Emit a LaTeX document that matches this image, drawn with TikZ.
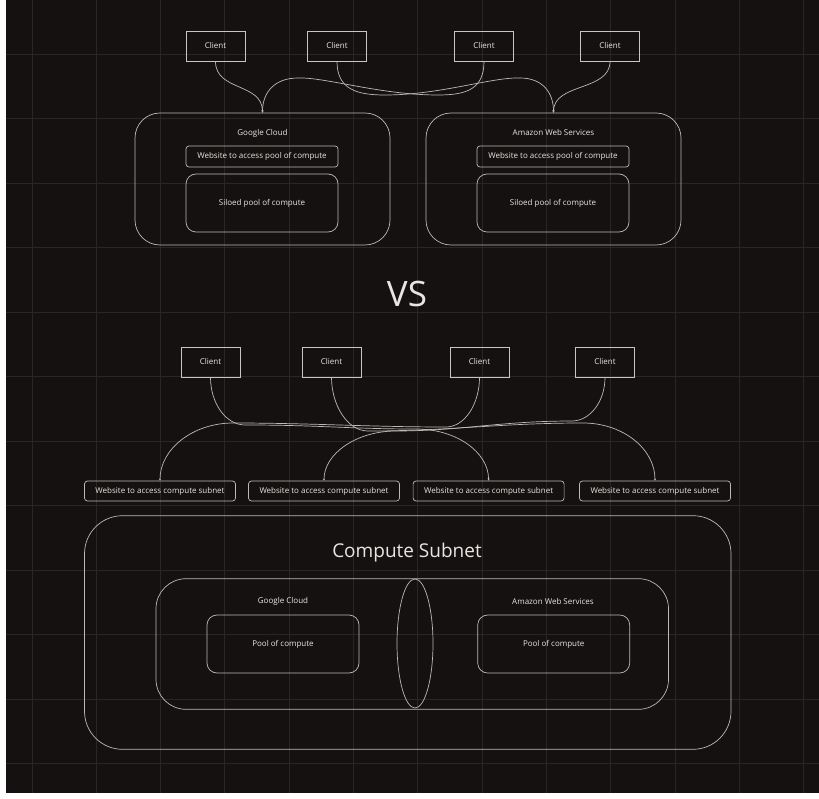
\documentclass[tikz,border=0pt]{standalone}
\usepackage{fontspec}
\setmainfont{Open Sans}
\usetikzlibrary{arrows.meta,shapes.geometric}
\definecolor{bg}{HTML}{141110}
\definecolor{gridc}{HTML}{2A2625}
\definecolor{linec}{HTML}{BDB9B5}
\definecolor{boxc}{HTML}{C9C5C1}
\definecolor{txt}{HTML}{E8E5E2}
\tikzset{
  smallfont/.style={font=\fontsize{8}{9}\selectfont},
  client/.style={draw=boxc, line width=0.9pt, minimum width=59pt, minimum height=30pt, inner sep=0pt, text=txt, smallfont},
  container/.style={draw=linec, line width=0.7pt, inner sep=0pt},
  webbox/.style={draw=linec, line width=0.7pt, rounded corners=3pt, minimum width=152pt, minimum height=21pt, inner sep=0pt, text=txt, smallfont},
  poolbox/.style={draw=linec, line width=0.7pt, rounded corners=10pt, minimum width=152pt, minimum height=58pt, inner sep=0pt, text=txt, smallfont},
  lbl/.style={text=txt, smallfont, inner sep=0pt},
  conn/.style={draw=linec, line width=0.7pt},
  connarrow/.style={conn, -{Stealth[length=2.2pt,width=2.2pt]}},
}
\begin{document}
\begin{tikzpicture}[x=1pt,y=-1pt]
\useasboundingbox (0,0) rectangle (819,799);
\fill[white] (0,0) rectangle (819,799);
\fill[bg] (6,0) rectangle (819,793);
\foreach \k in {0,...,12} \draw[gridc, line width=0.9pt] ({32+64.3*\k},0) -- ({32+64.3*\k},793);
\foreach \k in {0,...,11} \draw[gridc, line width=0.9pt] (6,{54+64.5*\k}) -- (819,{54+64.5*\k});

% ---------- top section ----------
\node[client] (c1) at (215.5,46) {Client};
\node[client] (c2) at (337,46) {Client};
\node[client] (c3) at (484,46) {Client};
\node[client] (c4) at (610,46) {Client};

\node[container, rounded corners=25pt, minimum width=255pt, minimum height=132pt] (gc) at (262.5,179) {};
\node[lbl] (gclbl) at (262.5,133) {Google Cloud};
\node[webbox] (gcweb) at (262,156.5) {Website to access pool of compute};
\node[poolbox] (gcpool) at (262,203) {Siloed pool of compute};

\node[container, rounded corners=25pt, minimum width=255pt, minimum height=132pt] (aws) at (553.5,179) {};
\node[lbl] (awslbl) at (553.5,133) {Amazon Web Services};
\node[webbox] (awsweb) at (553,156.5) {Website to access pool of compute};
\node[poolbox] (awspool) at (553,203) {Siloed pool of compute};

\draw[connarrow] (c1.south) .. controls +(0,30) and +(0,-30) .. (gc.north);
\draw[connarrow] (c4.south) .. controls +(0,30) and +(0,-30) .. (aws.north);
\draw[connarrow] (c3.south) .. controls +(0,28) and (466,95) .. (438,95)
  .. controls (380,95) and (325,77) .. (298,78)
  .. controls (275,78) and (262.5,92) .. (gc.north);
\draw[connarrow] (c2.south) .. controls +(0,28) and (357,95) .. (385,95)
  .. controls (440,95) and (492,77) .. (520,78)
  .. controls (542,78) and (553.5,92) .. (aws.north);

% ---------- VS ----------
\node[text=txt, font=\fontsize{35}{40}\selectfont, inner sep=0pt, anchor=base] (vs) at (407,307) {VS};

% ---------- bottom section ----------
\node[client] (d1) at (210.5,362) {Client};
\node[client] (d2) at (331.5,362) {Client};
\node[client] (d3) at (479.5,362) {Client};
\node[client] (d4) at (605,362) {Client};

\node[webbox, minimum width=151pt, minimum height=20pt] (w1) at (160,491) {Website to access compute subnet};
\node[webbox, minimum width=151pt, minimum height=20pt] (w2) at (324,491) {Website to access compute subnet};
\node[webbox, minimum width=151pt, minimum height=20pt] (w3) at (488.6,491) {Website to access compute subnet};
\node[webbox, minimum width=151pt, minimum height=20pt] (w4) at (655,491) {Website to access compute subnet};

\draw[connarrow] (d1.south) .. controls +(0,26) and (226,425) .. (245,425)
  .. controls (320,425) and (350,429) .. (416,429)
  .. controls (456,429) and (488.6,452) .. (w3.north);
\draw[connarrow] (d2.south) .. controls +(0,27) and (347,431) .. (368,431)
  .. controls (450,431) and (500,423) .. (583,423)
  .. controls (623,423) and (655,449) .. (w4.north);
\draw[connarrow] (d3.south) .. controls +(0,26) and (465,427) .. (446,427)
  .. controls (370,427) and (310,423) .. (233,423)
  .. controls (193,423) and (160,449) .. (w1.north);
\draw[connarrow] (d4.south) .. controls +(0,24) and (590,421) .. (572,421)
  .. controls (500,421) and (460,431) .. (396,431)
  .. controls (356,431) and (324,454) .. (w2.north);

\node[container, rounded corners=38pt, minimum width=646.5pt, minimum height=233.6pt] (subnet) at (407.75,632.5) {};
\node[text=txt, font=\fontsize{19}{22}\selectfont, inner sep=0pt, anchor=base] (subnetlbl) at (407,557) {Compute Subnet};
\node[container, rounded corners=30pt, minimum width=512.5pt, minimum height=130.6pt] (clouds) at (412.25,644) {};
\node[container, ellipse, minimum width=36pt, minimum height=129pt] (overlap) at (415,643.5) {};
\node[lbl] (gclbl2) at (283,601) {Google Cloud};
\node[lbl] (awslbl2) at (553,601) {Amazon Web Services};
\node[poolbox] (gcpool2) at (283,644) {Pool of compute};
\node[poolbox] (awspool2) at (553.7,644) {Pool of compute};
\end{tikzpicture}
\end{document}
